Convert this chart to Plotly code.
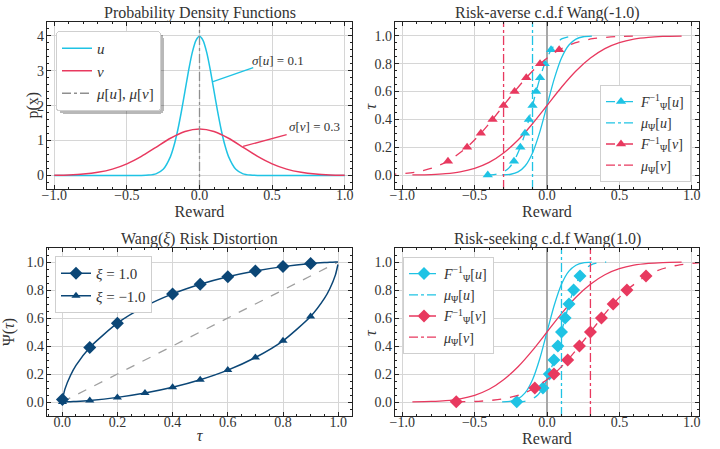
import plotly.graph_objects as go

FONT = "Liberation Serif"
CYAN = "#1fc3e4"
RED = "#e8395f"
NAVY = "#0b4676"
GREY = "#8f8f8f"
INK = "#222222"

# ---------------- Panel 1: probability density functions ----------------
pdf_u_x = [-1.0, -0.45, -0.4, -0.35, -0.3, -0.25, -0.2, -0.175, -0.15, -0.125, -0.1, -0.075, -0.05, -0.025, 0.0,
           0.025, 0.05, 0.075, 0.1, 0.125, 0.15, 0.175, 0.2, 0.25, 0.3, 0.35, 0.4, 0.45, 1.0]
pdf_u_y = [0.0, 0.0, 0.0005, 0.009, 0.044, 0.175, 0.540, 0.863, 1.295, 1.826, 2.420, 3.011, 3.521, 3.867, 3.989,
           3.867, 3.521, 3.011, 2.420, 1.826, 1.295, 0.863, 0.540, 0.175, 0.044, 0.009, 0.0005, 0.0, 0.0]
pdf_v_x = [-1.0, -0.9, -0.8, -0.7, -0.6, -0.5, -0.4, -0.3, -0.2, -0.1, 0.0,
           0.1, 0.2, 0.3, 0.4, 0.5, 0.6, 0.7, 0.8, 0.9, 1.0]
pdf_v_y = [0.005, 0.015, 0.038, 0.088, 0.180, 0.332, 0.547, 0.807, 1.065, 1.258, 1.330,
           1.258, 1.065, 0.807, 0.547, 0.332, 0.180, 0.088, 0.038, 0.015, 0.005]
mean_uv = 0.0
sigma_labels = ["<i>σ</i>[<i>u</i>] = 0.1", "<i>σ</i>[<i>v</i>] = 0.3"]

# ---------------- Panels 2 & 4: c.d.f. curves ----------------
cdf_u_x = [-0.31, -0.25, -0.2, -0.15, -0.1, -0.05, 0.0, 0.05, 0.1, 0.15, 0.2, 0.25, 0.31]
cdf_u_y = [0.001, 0.006, 0.023, 0.067, 0.159, 0.309, 0.5, 0.691, 0.841, 0.933, 0.977, 0.994, 0.999]
cdf_v_x = [-0.93, -0.8, -0.7, -0.6, -0.5, -0.4, -0.3, -0.2, -0.1, 0.0,
           0.1, 0.2, 0.3, 0.4, 0.5, 0.6, 0.7, 0.8, 0.93]
cdf_v_y = [0.001, 0.004, 0.010, 0.023, 0.048, 0.091, 0.159, 0.252, 0.369, 0.5,
           0.631, 0.748, 0.841, 0.909, 0.952, 0.977, 0.990, 0.996, 0.999]

# distorted quantile functions (tau levels, and which levels carry a marker)
tau_q = [0.001, 0.005, 0.02, 0.05, 0.1, 0.2, 0.3, 0.4, 0.5, 0.6, 0.7, 0.8, 0.9, 0.95, 0.98, 0.995, 0.999]
tau_q_marked = [True, False, False, False, True, True, True, True, True, True, True, True, True, False, False, False, False]
averse_u_x = [-0.409, -0.358, -0.305, -0.264, -0.228, -0.184, -0.152, -0.125, -0.100, -0.075, -0.048, -0.016, 0.028,
              0.064, 0.105, 0.158, 0.209]
averse_v_x = [-1.227, -1.073, -0.916, -0.793, -0.684, -0.552, -0.457, -0.376, -0.300, -0.224, -0.143, -0.048, 0.084,
              0.193, 0.316, 0.473, 0.627]
seeking_u_x = [-0.209, -0.158, -0.105, -0.064, -0.028, 0.016, 0.048, 0.075, 0.100, 0.125, 0.152, 0.184, 0.228,
               0.264, 0.305, 0.358, 0.409]
seeking_v_x = [-0.627, -0.473, -0.316, -0.193, -0.084, 0.048, 0.143, 0.224, 0.300, 0.376, 0.457, 0.552, 0.684,
               0.793, 0.916, 1.073, 1.227]
averse_means = [-0.1, -0.3]
seeking_means = [0.1, 0.3]

# ---------------- Panel 3: Wang distortion ----------------
tau_d = [0.001, 0.01, 0.03, 0.05, 0.1, 0.2, 0.3, 0.4, 0.5, 0.6, 0.7, 0.8, 0.9, 0.95, 0.97, 0.99, 0.999]
tau_d_marked = [True, False, False, False, True, True, True, True, True, True, True, True, True, False, False, False, False]
wang_pos = [0.018, 0.092, 0.189, 0.261, 0.390, 0.563, 0.683, 0.772, 0.841, 0.895, 0.936, 0.967, 0.989,
            0.996, 0.998, 0.9997, 1.0]
wang_neg = [0.0, 0.0004, 0.002, 0.004, 0.011, 0.033, 0.064, 0.105, 0.159, 0.228, 0.318, 0.437, 0.611,
            0.740, 0.811, 0.908, 0.982]
identity_x = [0.0, 1.0]
identity_y = [0.0, 1.0]

titles = ["Probability Density Functions", "Risk-averse c.d.f Wang(-1.0)",
          "Wang(<i>ξ</i>) Risk Distortion", "Risk-seeking c.d.f Wang(1.0)"]
y_titles = ["p(x)", "<i>τ</i>", "Ψ(<i>τ</i>)", "<i>τ</i>"]

FU = "<i>F</i><sup>−1</sup><sub>Ψ</sub>[<i>u</i>]"
FV = "<i>F</i><sup>−1</sup><sub>Ψ</sub>[<i>v</i>]"
MU = "<i>μ</i><sub>Ψ</sub>[<i>u</i>]"
MV = "<i>μ</i><sub>Ψ</sub>[<i>v</i>]"

W, H = 720, 449


def PX(xpage):
    return xpage / W


def PY(ypage):
    return 1 - ypage / H


fig = go.Figure()

# ---- panel 1
fig.add_trace(go.Scatter(x=pdf_u_x, y=pdf_u_y, mode="lines", line=dict(color=CYAN, width=1.5, shape="spline", smoothing=0.6),
                         name="<i>u</i>", xaxis="x", yaxis="y", legend="legend"))
fig.add_trace(go.Scatter(x=pdf_v_x, y=pdf_v_y, mode="lines", line=dict(color=RED, width=1.5, shape="spline", smoothing=0.6),
                         name="<i>v</i>", xaxis="x", yaxis="y", legend="legend"))
fig.add_trace(go.Scatter(x=[mean_uv, mean_uv], y=[-0.39, 4.4], mode="lines", line=dict(color=GREY, width=1.3, dash="dashdot"),
                         name="<i>μ</i>[<i>u</i>], <i>μ</i>[<i>v</i>]", xaxis="x", yaxis="y", legend="legend"))


def sub(vals, flags):
    return [v for v, f in zip(vals, flags) if f]


def cdf_panel(xa, ya, lg, u_x, v_x, means, symbol, msize):
    fig.add_trace(go.Scatter(x=[0, 0], y=[-0.1, 1.1], mode="lines", line=dict(color="#a8a8a8", width=2),
                             showlegend=False, xaxis=xa, yaxis=ya, hoverinfo="skip"))
    fig.add_trace(go.Scatter(x=cdf_u_x, y=cdf_u_y, mode="lines", line=dict(color=CYAN, width=1.3, shape="spline", smoothing=0.7),
                             showlegend=False, xaxis=xa, yaxis=ya))
    fig.add_trace(go.Scatter(x=cdf_v_x, y=cdf_v_y, mode="lines", line=dict(color=RED, width=1.3, shape="spline", smoothing=0.7),
                             showlegend=False, xaxis=xa, yaxis=ya))
    for col, qx, mean, nm, mnm in [(CYAN, u_x, means[0], FU, MU), (RED, v_x, means[1], FV, MV)]:
        fig.add_trace(go.Scatter(x=qx, y=tau_q, mode="lines", line=dict(color=col, width=1.3, dash="dash", shape="spline", smoothing=0.7),
                                 showlegend=False, xaxis=xa, yaxis=ya))
        fig.add_trace(go.Scatter(x=sub(qx, tau_q_marked), y=sub(tau_q, tau_q_marked), mode="markers",
                                 marker=dict(color=col, symbol=symbol, size=msize), showlegend=False, xaxis=xa, yaxis=ya))
        fig.add_trace(go.Scatter(x=[None], y=[None], mode="lines+markers", line=dict(color=col, width=1.3, dash="dash"),
                                 marker=dict(color=col, symbol=symbol, size=msize), name=nm, xaxis=xa, yaxis=ya, legend=lg))
        fig.add_trace(go.Scatter(x=[mean, mean], y=[-0.1, 1.1], mode="lines", line=dict(color=col, width=1.3, dash="dashdot"),
                                 name=mnm, xaxis=xa, yaxis=ya, legend=lg))


cdf_panel("x2", "y2", "legend2", averse_u_x, averse_v_x, averse_means, "triangle-up", 9)
cdf_panel("x4", "y4", "legend4", seeking_u_x, seeking_v_x, seeking_means, "diamond", 10)

# ---- panel 3
fig.add_trace(go.Scatter(x=identity_x, y=identity_y, mode="lines", line=dict(color="#a0a0a0", width=1.3, dash="dash"),
                         showlegend=False, xaxis="x3", yaxis="y3"))
for vals, symbol, nm in [(wang_pos, "diamond", "<i>ξ</i> = 1.0"), (wang_neg, "triangle-up", "<i>ξ</i> = −1.0")]:
    fig.add_trace(go.Scatter(x=tau_d, y=vals, mode="lines", line=dict(color=NAVY, width=1.5, shape="spline", smoothing=0.6),
                             showlegend=False, xaxis="x3", yaxis="y3"))
    fig.add_trace(go.Scatter(x=sub(tau_d, tau_d_marked), y=sub(vals, tau_d_marked), mode="markers",
                             marker=dict(color=NAVY, symbol=symbol, size=10 if symbol == "diamond" else 8),
                             showlegend=False, xaxis="x3", yaxis="y3"))
    fig.add_trace(go.Scatter(x=[None], y=[None], mode="lines+markers", line=dict(color=NAVY, width=1.5),
                             marker=dict(color=NAVY, symbol=symbol, size=10 if symbol == "diamond" else 8),
                             name=nm, xaxis="x3", yaxis="y3", legend="legend3"))

# ---------------- layout ----------------
XD = [[PX(47), PX(352)], [PX(395), PX(699)]]
YD = [[PY(189), PY(22)], [PY(416), PY(248)]]


def axis(domain, rng, dtick, minor_dtick, fmt, anchor, title, is_x):
    return dict(domain=domain, range=rng, dtick=dtick, tick0=0, tickformat=fmt, anchor=anchor, automargin=False,
                showline=True, linecolor=INK, linewidth=1.2, mirror="allticks",
                ticks="inside", ticklen=4, tickwidth=1, tickcolor=INK,
                ticklabelstandoff=-7 if is_x else -1,
                showgrid=True, gridcolor="#d6d6d6", gridwidth=1, zeroline=False,
                minor=dict(dtick=minor_dtick, tick0=0, ticks="inside", ticklen=2, tickwidth=0.8, tickcolor=INK, showgrid=False),
                tickfont=dict(family=FONT, size=14, color="#333"),
                title=dict(text=title, font=dict(family=FONT, size=16, color="#333"), standoff=0))


layout = dict(
    width=W, height=H, margin=dict(l=0, r=0, t=0, b=0, autoexpand=False),
    paper_bgcolor="white", plot_bgcolor="white",
    font=dict(family=FONT, color="#333"),
    xaxis=axis(XD[0], [-1.05, 1.05], 0.5, 0.1, ".1f", "y", "Reward", True),
    yaxis=axis(YD[0], [-0.39, 4.4], 1, 0.2, "d", "x", None, False),
    xaxis2=axis(XD[1], [-1.05, 1.05], 0.5, 0.1, ".1f", "y2", "Reward", True),
    yaxis2=axis(YD[0], [-0.1, 1.1], 0.2, 0.05, ".1f", "x2", None, False),
    xaxis3=axis(XD[0], [-0.055, 1.05], 0.2, 0.05, ".1f", "y3", "<i>τ</i>", True),
    yaxis3=axis(YD[1], [-0.1, 1.1], 0.2, 0.05, ".1f", "x3", None, False),
    xaxis4=axis(XD[1], [-1.05, 1.05], 0.5, 0.1, ".1f", "y4", "Reward", True),
    yaxis4=axis(YD[1], [-0.1, 1.1], 0.2, 0.05, ".1f", "x4", None, False),
)

# legends: anchor point in page pixels, anchor side, font size
LEG_POS = {"legend": (56, 31, "left", 15), "legend2": (691, 85, "right", 14),
           "legend3": (55, 256, "left", 15), "legend4": (403, 257, "left", 14)}
for key, (x, y, anchor, fs) in LEG_POS.items():
    layout[key] = dict(x=PX(x), y=PY(y), xanchor=anchor, yanchor="top", bgcolor="white", bordercolor="#cfcfcf",
                       borderwidth=1, font=dict(family=FONT, size=fs, color="#333"), itemwidth=30, tracegroupgap=0)

annotations = []
for i, t in enumerate(titles):
    xd = XD[i % 2]
    yd = YD[i // 2]
    annotations.append(dict(text=t, x=(xd[0] + xd[1]) / 2, y=yd[1], xref="paper", yref="paper", xanchor="center",
                            yanchor="middle", yshift=9, showarrow=False, font=dict(family=FONT, size=16, color="#333")))
# y-axis titles (page x of their centres)
YT_X = [32, 370, 9, 370]
for i, t in enumerate(y_titles):
    yd = YD[i // 2]
    annotations.append(dict(text=t, x=PX(YT_X[i]), y=(yd[0] + yd[1]) / 2, xref="paper", yref="paper", xanchor="center",
                            yanchor="middle", textangle=-90, showarrow=False, font=dict(family=FONT, size=16, color="#333")))

annotations.append(dict(text=sigma_labels[0], x=0.54, y=3.31, xref="x", yref="y", showarrow=False,
                        font=dict(family=FONT, size=13, color="#333")))
annotations.append(dict(text=sigma_labels[1], x=0.79, y=1.40, xref="x", yref="y", showarrow=False,
                        font=dict(family=FONT, size=13, color="#333")))
layout["annotations"] = annotations
layout["shapes"] = [
    dict(type="line", xref="x", yref="y", x0=0.093, y0=2.69, x1=0.37, y1=3.09, line=dict(color=CYAN, width=1.3)),
    dict(type="line", xref="x", yref="y", x0=0.30, y0=0.83, x1=0.60, y1=1.17, line=dict(color=RED, width=1.3)),
]

fig.update_layout(**layout)

# page tweaks: no body margin; matplotlib-like legend drop shadow and rounded frame
POST = """
document.body.style.margin = '0px';
var gd = document.getElementById('{plot_id}');
function legendShadows() {
  gd.querySelectorAll('g.legend').forEach(function (g) {
    if (g.querySelector('rect.mplshadow')) return;
    var bg = g.querySelector('rect.bg');
    if (!bg) return;
    bg.setAttribute('rx', 3); bg.setAttribute('ry', 3);
    var s = bg.cloneNode(false);
    s.setAttribute('class', 'mplshadow');
    s.style.fill = 'rgba(0,0,0,0.28)';
    s.style.stroke = 'none';
    s.setAttribute('transform', 'translate(3,3)');
    bg.parentNode.insertBefore(s, bg);
  });
}
legendShadows();
gd.on('plotly_afterplot', legendShadows);
"""
fig.write_html("out.html", config={"displayModeBar": False}, post_script=POST)
